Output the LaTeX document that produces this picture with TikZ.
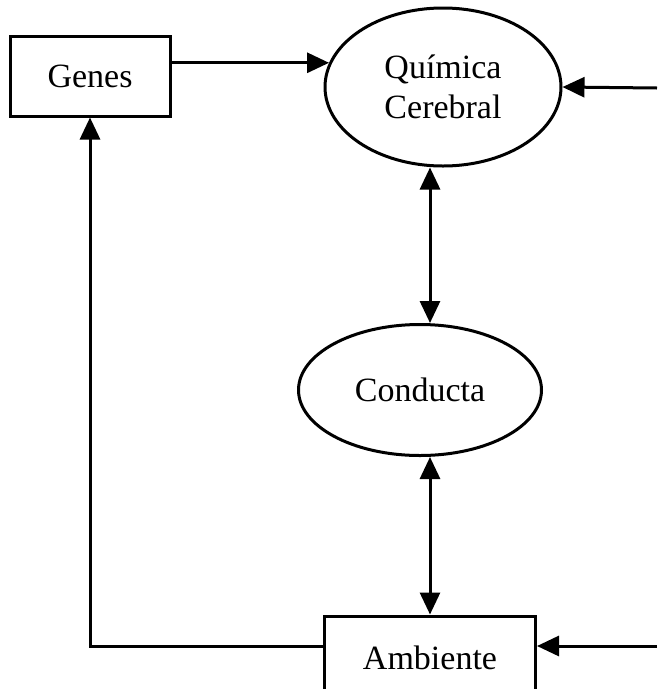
\documentclass[tikz,border=0pt]{standalone}
\usepackage{fontspec}
\setmainfont{Liberation Serif}
\usetikzlibrary{shapes.geometric,arrows.meta}
\tikzstyle{every node}=[font=\fontsize{34}{40}\selectfont, align=center, inner sep=0pt]
\tikzstyle{box}=[draw, rectangle]
\tikzstyle{oval}=[draw, ellipse]
\tikzstyle{arr}=[-{Triangle[length=22pt,width=20pt]}]
\tikzstyle{arrr}=[{Triangle[length=22pt,width=20pt]}-{Triangle[length=22pt,width=20pt]}]

\begin{document}
\begin{tikzpicture}[x=1pt, y=-1pt, line width=3pt, black]
    \useasboundingbox (0,0) rectangle (657,689);
    \clip (0,0) rectangle (657,689);
% Boxes
    \node[box, minimum width=160pt, minimum height=80pt] (genes) at (90,76) {Genes};
    \node[box, minimum width=211pt, minimum height=84pt] (amb) at (430,658) {Ambiente};
% Ovals
    \node[oval, minimum width=236pt, minimum height=158pt] (quim) at (443,87) {Química\\Cerebral};
    \node[oval, minimum width=243pt, minimum height=131pt] (cond) at (420,390) {Conducta};
% Outside ends
    \coordinate (r1) at (657,88);
    \coordinate (r2) at (657,646);
    \coordinate (qin) at (quim.168);
% Arrows
    \draw[arr] (genes.east |- qin) -- (qin);
    \draw[arr] (r1) -- (quim.east);
    \draw[arrr] ([xshift=-13pt]quim.south) -- ([xshift=10pt]cond.north);
    \draw[arrr] ([xshift=10pt]cond.south) -- (amb.north);
    \draw[arr] (r2) -- ([yshift=12pt]amb.east);
    \draw[arr] ([yshift=12pt]amb.west) -| (genes.south);
\end{tikzpicture}
\end{document}
